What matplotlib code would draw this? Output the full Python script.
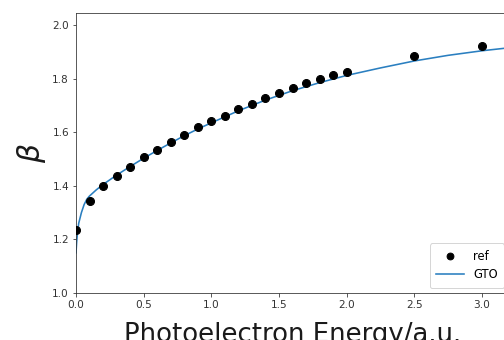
import matplotlib
matplotlib.use("Agg")
import matplotlib.pyplot as plt

# reference points
ref_x = [0.0, 0.1, 0.2, 0.3, 0.4, 0.5, 0.6, 0.7, 0.8, 0.9, 1.0, 1.1, 1.2, 1.3, 1.4,
         1.5, 1.6, 1.7, 1.8, 1.9, 2.0, 2.5, 3.0]
ref_y = [1.235, 1.345, 1.40, 1.438, 1.472, 1.507, 1.534, 1.563, 1.588, 1.618, 1.642,
         1.662, 1.686, 1.706, 1.728, 1.748, 1.764, 1.784, 1.798, 1.812, 1.826, 1.883, 1.923]

# GTO curve
gto_x = [0.0, 0.005, 0.01, 0.02, 0.04, 0.06, 0.08, 0.1, 0.15, 0.2, 0.3, 0.4, 0.5, 0.6,
         0.7, 0.8, 0.9, 1.0, 1.2, 1.4, 1.6, 1.8, 2.0, 2.25, 2.5, 2.75, 3.0, 3.25]
gto_y = [1.15, 1.19, 1.22, 1.26, 1.30, 1.33, 1.35, 1.362, 1.385, 1.405, 1.44, 1.472,
         1.503, 1.532, 1.56, 1.587, 1.612, 1.635, 1.68, 1.72, 1.755, 1.785, 1.812,
         1.84, 1.866, 1.887, 1.904, 1.918]

xticks = [0.0, 0.5, 1.0, 1.5, 2.0, 2.5, 3.0]
yticks = [1.0, 1.2, 1.4, 1.6, 1.8, 2.0]

fig = plt.figure(figsize=(504 / 72, 340 / 72), dpi=72)
ax = fig.add_axes([76 / 504, 1 - 293 / 340, 433 / 504, 280 / 340])

ax.plot(ref_x, ref_y, 'o', color='black', markersize=8, label='ref', zorder=3)
ax.plot(gto_x, gto_y, '-', color='#2a7fc0', linewidth=1.6, label='GTO', zorder=2)

ax.set_xlim(0, 3.2)
ax.set_ylim(1.0, 2.045)
ax.set_xticks(xticks)
ax.set_xticklabels([f"{t:.1f}" for t in xticks])
ax.set_yticks(yticks)
ax.set_yticklabels([f"{t:.1f}" for t in yticks])
ax.tick_params(labelsize=10.5, colors='#333333', labelcolor='#333333')
for s in ax.spines.values():
    s.set_color('#333333')

ax.set_xlabel('Photoelectron Energy/a.u.', fontsize=26, labelpad=12, color='#1a1a1a')
ax.set_ylabel(r'$\beta$', fontsize=30, labelpad=4, color='#1a1a1a')

leg = ax.legend(loc='lower right', fontsize=11.5, handlelength=2.4, labelspacing=0.5,
                borderpad=0.55, borderaxespad=0.45, handletextpad=0.8, markerscale=0.85)

fig.savefig('out.png', dpi=72)
